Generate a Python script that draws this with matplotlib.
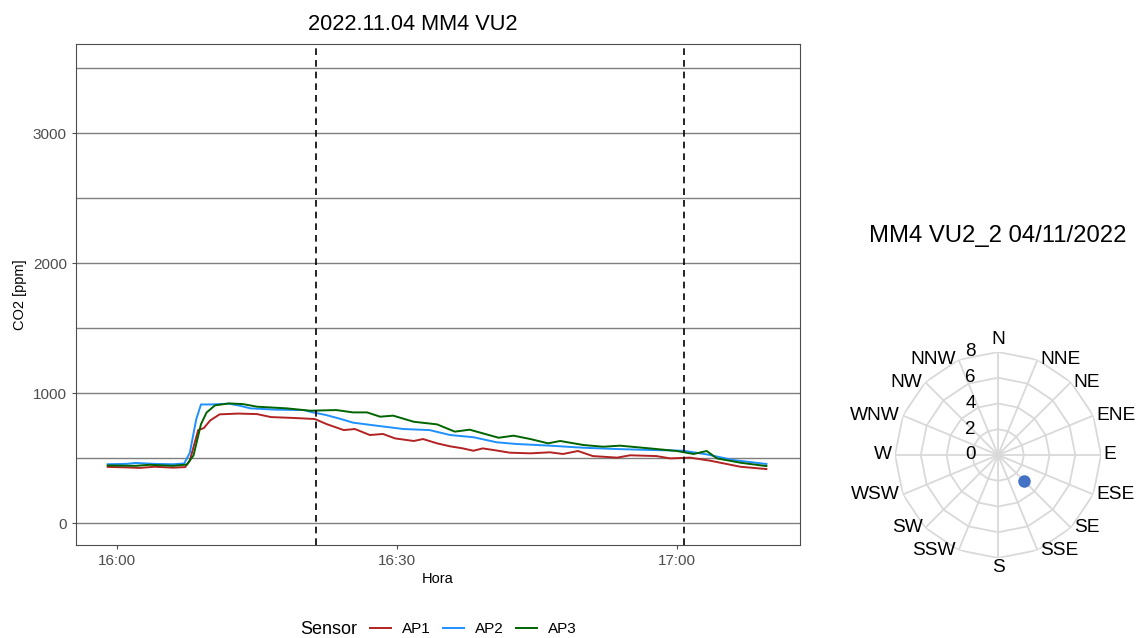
import numpy as np
import matplotlib.pyplot as plt

plt.rcParams['font.family'] = ['Liberation Sans', 'DejaVu Sans']

# minutes after 16:00 and CO2 [ppm] per sensor
ap1_t = [-1, 1, 2.5, 4, 6, 7.3, 7.8, 8.7, 9.3, 10, 11, 13, 15, 16.5, 19, 21.2, 22.5, 24.3, 25.5,
         27.1, 28.5, 29.8, 31.8, 32.8, 34.3, 35.7, 37, 38.2, 39.2, 40.5, 42.1, 44.3, 46.4, 47.8,
         49.4, 51, 53.6, 55, 57.8, 59.3, 61.4, 63.6, 65, 66.8, 69.6]
ap1_v = [432, 428, 424, 433, 426, 430, 480, 715, 730, 790, 836, 842, 838, 815, 808, 800, 760, 715, 723,
         677, 685, 651, 631, 646, 613, 590, 575, 556, 574, 560, 541, 536, 544, 531,
         554, 515, 503, 521, 515, 497, 503, 479, 459, 433, 415]

ap2_t = [-1, 1, 2, 4, 6, 7.2, 7.8, 8.5, 9, 10, 12, 13, 14.3, 17, 20, 21, 22.4, 24, 25.3, 27.8,
         30.7, 33.5, 35.7, 38.2, 40.7, 42.8, 46.4, 50, 53.6, 57.1, 60.7, 63.2, 66, 69.6]
ap2_v = [452, 455, 462, 455, 452, 458, 540, 800, 912, 912, 918, 905, 882, 872, 869, 851, 831, 800, 772, 749,
         723, 715, 677, 660, 621, 608, 595, 579, 569, 562, 556, 528, 485, 454]

ap3_t = [-1, 2, 3.5, 6, 7.5, 8.2, 9, 9.6, 10.5, 12, 13.5, 15, 18.2, 20.7, 23.5, 25.3, 26.8, 28.2,
         29.6, 31.8, 34.3, 36.2, 37.8, 40.9, 42.5, 44.3, 46.2, 47.5, 50, 52.1, 53.9, 57.1, 60,
         61.8, 63.2, 64.3, 66.8, 69.6]
ap3_v = [443, 440, 448, 440, 450, 520, 760, 850, 905, 920, 915, 895, 882, 864, 869, 851, 851, 818,
         826, 779, 759, 703, 718, 656, 672, 646, 613, 631, 600, 587, 595, 574, 554,
         531, 554, 497, 464, 438]

vlines_t = [21.3, 60.8]
xtick_t = [0, 30, 60]
xtick_lab = ['16:00', '16:30', '17:00']

# wind rose
directions = ['N', 'NNE', 'NE', 'ENE', 'E', 'ESE', 'SE', 'SSE',
              'S', 'SSW', 'SW', 'WSW', 'W', 'WNW', 'NW', 'NNW']
wind_dir = ['SE']
wind_val = [2.9]
rings = [0, 2, 4, 6, 8]

fig = plt.figure(figsize=(11.37, 6.38), dpi=100)

ax = fig.add_axes([0.0668, 0.1458, 0.6368, 0.7852])
ax.plot(ap1_t, ap1_v, color='#B22222', lw=1.4, label='AP1')
ax.plot(ap2_t, ap2_v, color='#1E90FF', lw=1.4, label='AP2')
ax.plot(ap3_t, ap3_v, color='#006400', lw=1.4, label='AP3')
for t in vlines_t:
    ax.axvline(t, color='black', ls='--', lw=1.2, dashes=(4, 3))
for g in range(0, 3501, 500):
    ax.axhline(g, color='#7f7f7f', lw=1.0, zorder=0)
ax.set_xlim(-4.4, 73.2)
ax.set_ylim(-169, 3685)
ax.set_yticks([0, 1000, 2000, 3000])
ax.set_xticks(xtick_t)
ax.set_xticklabels(xtick_lab)
ax.tick_params(labelsize=11, colors='#4d4d4d', length=3, width=0.8)
for s in ax.spines.values():
    s.set_color('#4d4d4d')
    s.set_linewidth(0.8)
ax.set_xlabel('Hora', fontsize=10.5, labelpad=3)
ax.set_ylabel('CO2 [ppm]', fontsize=10.5)
fig.text(413 / 1137, 1 - 25 / 638, '2022.11.04 MM4 VU2', fontsize=15.7, ha='center', va='center')

fig.text(300 / 1137, 1 - 629 / 638, 'Sensor', fontsize=13, va='center', ha='left')
fig.legend(handles=ax.get_lines()[:3], labels=['AP1', 'AP2', 'AP3'], loc='center left',
           bbox_to_anchor=(370 / 1137, 1 - 629 / 638), ncol=3, frameon=False, fontsize=11,
           handlelength=1.35, columnspacing=0.8, handletextpad=0.75, borderpad=0,
           borderaxespad=0)

# polar / radar chart
pax = fig.add_axes([0.7872, 0.1254, 0.1812, 0.3229], projection='polar')
pax.set_theta_zero_location('N')
pax.set_theta_direction(-1)
theta = np.deg2rad(np.arange(16) * 22.5)
pax.grid(False)
pax.spines['polar'].set_visible(False)
closed = np.append(theta, theta[0])
for r in rings[1:]:
    pax.plot(closed, [r] * 17, color='#d9d9d9', lw=1.3, zorder=1)
for th in theta:
    pax.plot([th, th], [0, rings[-1]], color='#d9d9d9', lw=1.3, zorder=1)
pax.set_ylim(0, 8)
pax.set_yticks([])
pax.set_xticks([])

# direction labels anchored at the outer ring, aligned by side
for th, lab in zip(theta, directions):
    s = np.sin(th)
    if abs(s) < 1e-6:
        ha = 'center'
        dx = 0
        if np.cos(th) > 0:
            va, dy = 'bottom', 3
        else:
            va, dy = 'top', -1
    else:
        ha = 'left' if s > 0 else 'right'
        dx = 2 if s > 0 else -2
        va, dy = 'center', 0
    pax.annotate(lab, xy=(th, rings[-1]), xytext=(dx, dy), textcoords='offset points',
                 ha=ha, va=va, fontsize=13.8, annotation_clip=False)

for r in rings:
    pax.annotate(str(r), xy=(0, r), xytext=(-16, 0), textcoords='offset points',
                 ha='right', va='center', fontsize=13.5)
wind_th = [theta[directions.index(d)] for d in wind_dir]
pax.plot(wind_th, wind_val, 'o', color='#4472C4', ms=8, zorder=3, clip_on=False)

fig.text(998 / 1137, 1 - 236 / 638, 'MM4 VU2_2 04/11/2022', fontsize=17.2, ha='center', va='center')

fig.savefig('out.png', dpi=100)
